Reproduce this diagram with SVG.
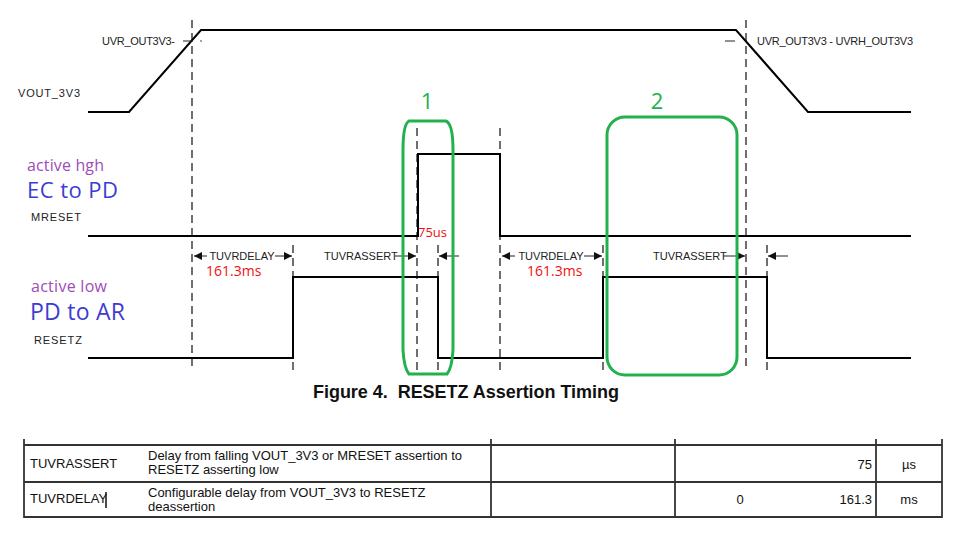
<svg xmlns="http://www.w3.org/2000/svg" width="964" height="547" viewBox="0 0 964 547">
<defs>
<style>
.sig{fill:none;stroke:#000;stroke-width:2}
.dash{fill:none;stroke:#222;stroke-width:1.3;stroke-dasharray:8 5}
.dim{fill:none;stroke:#222;stroke-width:1}
.lbl{font-family:"Liberation Sans",Arial,sans-serif;font-size:11px;fill:#222}
.cal{font-family:"Open Sans","Noto Sans",sans-serif}
.red{font-family:"Open Sans","Noto Sans",sans-serif;fill:#f01010}
.grn{fill:none;stroke:#22b14c;stroke-width:3}
.tbl{fill:none;stroke:#333;stroke-width:1.8}
.tt{font-family:"Liberation Sans",Arial,sans-serif;font-size:13px;fill:#111}
</style>
<marker id="ah" viewBox="0 0 10 10" refX="10" refY="5" markerWidth="8" markerHeight="8" markerUnits="userSpaceOnUse" orient="auto"><path d="M0,0 L10,5 L0,10 z" fill="#111"/></marker>
</defs>
<rect width="964" height="547" fill="#fff"/>

<g id="guides">
<line class="dash" x1="192" y1="20" x2="192" y2="370"/>
<line class="dash" x1="746" y1="20" x2="746" y2="370"/>
<line class="dash" x1="417" y1="128" x2="417" y2="370"/>
<line class="dash" x1="500" y1="128" x2="500" y2="370"/>
<line class="dash" x1="293" y1="245" x2="293" y2="370"/>
<line class="dash" x1="438" y1="245" x2="438" y2="370"/>
<line class="dash" x1="603" y1="245" x2="603" y2="370"/>
<line class="dash" x1="767" y1="245" x2="767" y2="370"/>
</g>

<g id="vout">
<polyline class="sig" points="88,112 129,112 201,30 736,30 808,112 911,112"/>
<text class="lbl" x="18" y="97" font-size="12" textLength="62">VOUT_3V3</text>
<text class="lbl" x="102" y="45" font-size="10.5" textLength="73">UVR_OUT3V3-</text>
<line class="dim" x1="183" y1="41" x2="193" y2="41" stroke-width="1.3"/>
<circle cx="201" cy="41" r="0.8" fill="#333"/>
<line class="dim" x1="725" y1="41" x2="735" y2="41" stroke-width="1.3"/>
<text class="lbl" x="757" y="45" font-size="10.5" textLength="156">UVR_OUT3V3 - UVRH_OUT3V3</text>
</g>

<g id="mreset">
<polyline class="sig" points="88,236 418,236 418,154 500,154 500,236 911,236"/>
<text class="cal" x="27" y="171" font-size="16" fill="#a04cb8" textLength="77">active hgh</text>
<text class="cal" x="27" y="198" font-size="22" fill="#3d3dd0" textLength="91">EC to PD</text>
<text class="lbl" x="31" y="221" font-size="12" textLength="50">MRESET</text>
<text class="red" x="418" y="237" font-size="13">75us</text>
</g>

<g id="resetz">
<polyline class="sig" points="88,358 293,358 293,277 438,277 438,358 603,358 603,277 767,277 767,358 911,358"/>
<text class="cal" x="31" y="292" font-size="16" fill="#a04cb8" textLength="76">active low</text>
<text class="cal" x="30" y="320" font-size="23" fill="#3d3dd0" textLength="95">PD to AR</text>
<text class="lbl" x="34" y="344" font-size="12" textLength="48">RESETZ</text>
</g>

<g id="timings">
<line class="dim" x1="207" y1="256" x2="194" y2="256" marker-end="url(#ah)"/>
<text class="lbl" x="242" y="260" text-anchor="middle">TUVRDELAY</text>
<line class="dim" x1="275" y1="256" x2="292" y2="256" marker-end="url(#ah)"/>
<text class="red" x="206" y="276" font-size="14">161.3ms</text>
<text class="lbl" x="324" y="260">TUVRASSERT</text>
<line class="dim" x1="395" y1="256" x2="416" y2="256" marker-end="url(#ah)"/>
<line class="dim" x1="459" y1="256" x2="439" y2="256" marker-end="url(#ah)"/>

<line class="dim" x1="515" y1="256" x2="502" y2="256" marker-end="url(#ah)"/>
<text class="lbl" x="551" y="260" text-anchor="middle">TUVRDELAY</text>
<line class="dim" x1="584" y1="256" x2="602" y2="256" marker-end="url(#ah)"/>
<text class="red" x="527" y="276" font-size="14">161.3ms</text>
<text class="lbl" x="653" y="260">TUVRASSERT</text>
<line class="dim" x1="723" y1="256" x2="745" y2="256" marker-end="url(#ah)"/>
<line class="dim" x1="788" y1="256" x2="768" y2="256" marker-end="url(#ah)"/>
</g>

<g id="box1">
<path class="grn" d="M409,121 L446,121 Q453,124 453,150 L453,350 Q452,368 447,374 L409,374 Q404,368 403,350 L403,150 Q403,124 409,121 Z"/>
<text class="cal" x="427" y="109" font-size="22" fill="#22b14c" text-anchor="middle">1</text>
</g>
<g id="box2">
<rect class="grn" x="607" y="117" width="130" height="258" rx="18"/>
<text class="cal" x="657" y="109" font-size="22" fill="#22b14c" text-anchor="middle">2</text>
</g>

<text x="313" y="398" font-family="'Liberation Sans',Arial,sans-serif" font-size="18" font-weight="bold" fill="#111" xml:space="preserve" textLength="306">Figure 4.  RESETZ Assertion Timing</text>

<g id="table">
<line class="tbl" x1="24" y1="445" x2="942" y2="445"/>
<line class="tbl" x1="24" y1="482" x2="942" y2="482"/>
<line class="tbl" x1="24" y1="517" x2="942" y2="517"/>
<line class="tbl" x1="24" y1="439" x2="24" y2="518"/>
<line class="tbl" x1="491" y1="439" x2="491" y2="518"/>
<line class="tbl" x1="675" y1="439" x2="675" y2="518"/>
<line class="tbl" x1="876" y1="439" x2="876" y2="518"/>
<line class="tbl" x1="942" y1="439" x2="942" y2="518"/>
<text class="tt" x="30" y="468">TUVRASSERT</text>
<text class="tt" x="148" y="460">Delay from falling VOUT_3V3 or MRESET assertion to</text>
<text class="tt" x="148" y="474">RESETZ asserting low</text>
<text class="tt" x="872" y="469" text-anchor="end">75</text>
<text class="tt" x="909" y="469" text-anchor="middle">µs</text>
<text class="tt" x="30" y="503">TUVRDELAY</text>
<line x1="106" y1="492" x2="106" y2="508" stroke="#111" stroke-width="1.5"/>
<text class="tt" x="148" y="497">Configurable delay from VOUT_3V3 to RESETZ</text>
<text class="tt" x="148" y="511">deassertion</text>
<text class="tt" x="740" y="504" text-anchor="middle">0</text>
<text class="tt" x="872" y="504" text-anchor="end">161.3</text>
<text class="tt" x="909" y="504" text-anchor="middle">ms</text>
</g>
</svg>
